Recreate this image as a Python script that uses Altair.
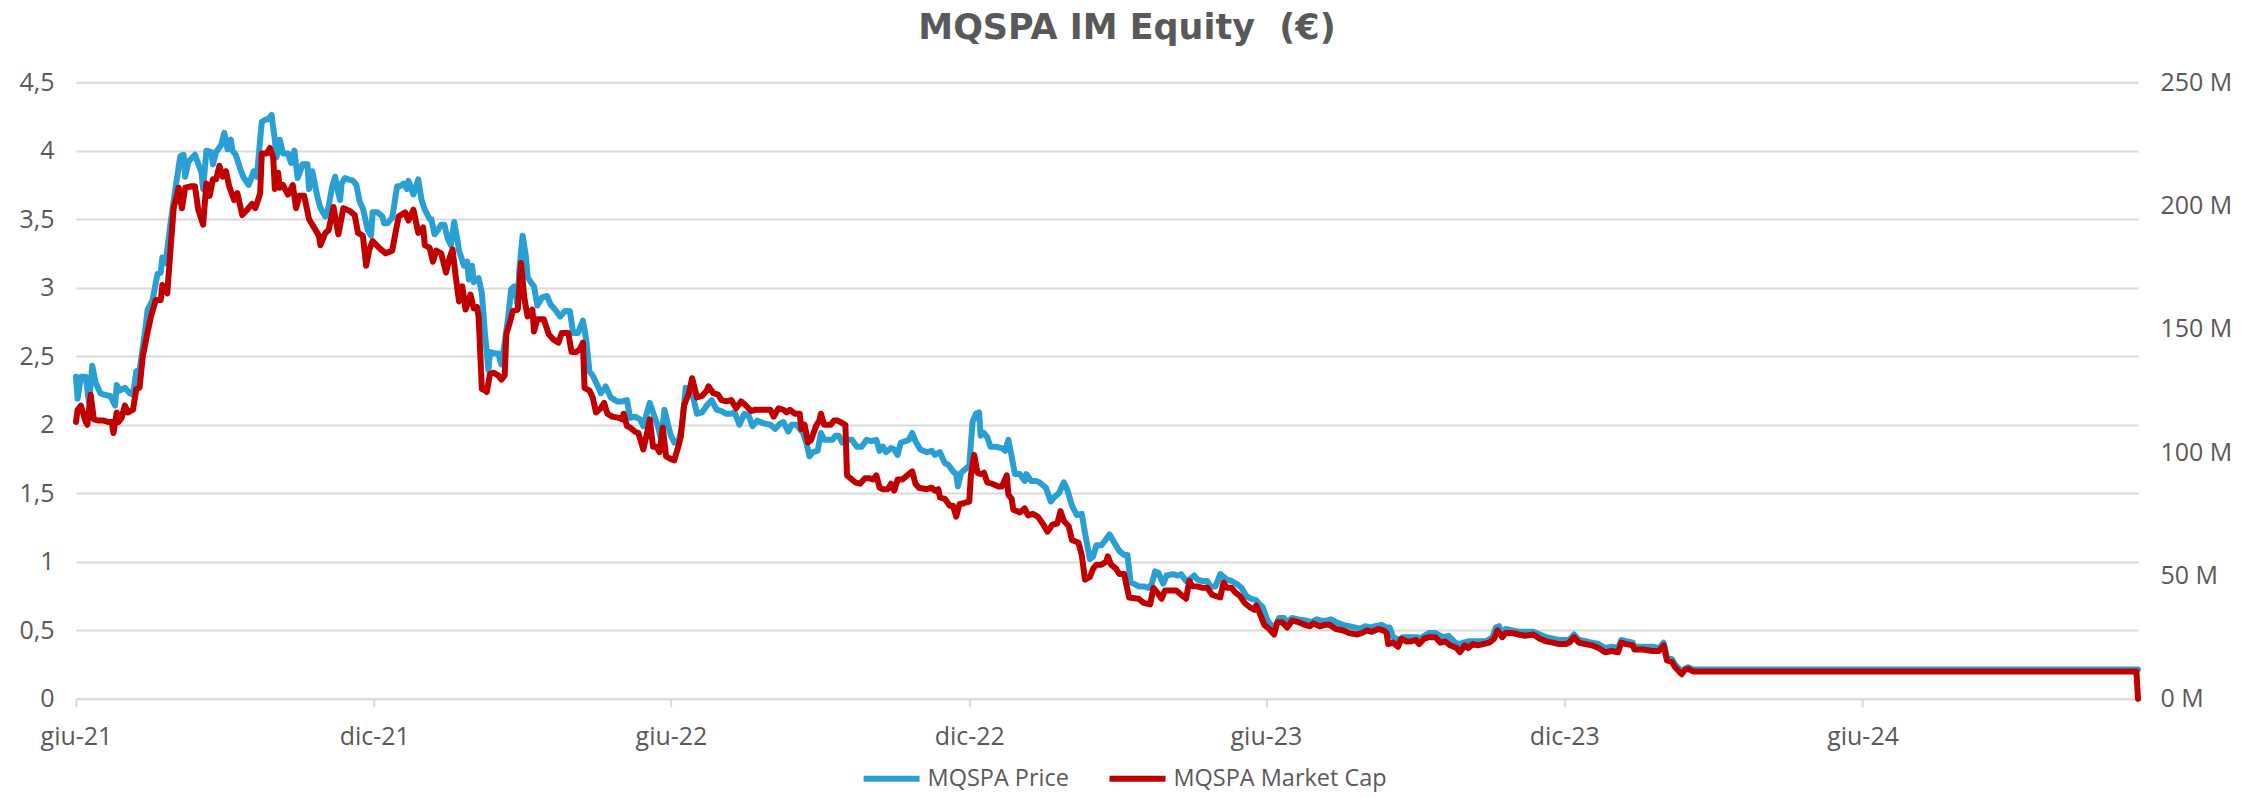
import altair as alt
import pandas as pd

START_DATE = "2021-06-01"
AXIS_END_DAY = 1265

SERIES_NAMES = ["MQSPA Price", "MQSPA Market Cap"]
SERIES_COLORS = ["#2A9FD4", "#C00000"]

# ---- MQSPA Price (EUR), days counted from 1 June 2021 ----
price_days = [
    0, 1, 3, 6, 8, 10, 12, 15, 17, 21, 24, 25, 27, 30, 33, 35, 37, 39, 42, 44,
    47, 50, 52, 53, 55, 58, 61, 64, 66, 67, 69, 73, 77, 78, 80, 83, 84, 86, 89, 91,
    93, 95, 96, 98, 101, 103, 106, 109, 111, 112, 114, 117, 118, 120, 122, 123, 125, 127, 130, 132,
    134, 136, 139, 142, 143, 145, 148, 150, 153, 155, 157, 159, 160, 162, 163, 165, 170, 172, 174, 176,
    179, 181, 182, 185, 188, 189, 191, 194, 197, 199, 201, 203, 204, 207, 210, 212, 214, 217,
    218, 220, 222, 224, 226, 228, 230, 232, 234, 235, 238, 240, 241, 243, 244, 246, 247, 249, 251, 253,
    254, 257, 259, 261, 263, 265, 267, 269, 271, 272, 274, 276, 277, 279, 281, 283, 286, 289, 291, 294,
    297, 300, 303, 305, 308, 311, 313, 315, 317, 319, 322, 325, 328, 332, 335, 338, 340, 343, 346, 348,
    352, 354, 357, 359, 361, 363, 365, 367, 370, 372, 374, 378, 381, 384, 387, 390, 393, 396, 399, 402,
    404, 407, 410, 413, 415, 418, 422, 426, 429, 432,
    434, 437, 439, 442, 444, 446, 448, 450, 452, 455, 457, 459, 462, 464, 466, 468, 470, 473, 476, 479,
    482, 485, 488, 491, 493, 495, 497, 500, 502, 504, 506, 509, 511, 513, 515, 518, 522, 525, 527, 530,
    533, 535, 538, 540, 541, 543, 546, 548, 550, 552, 554, 555, 557, 559, 561, 564, 568, 570, 572, 574,
    576, 579, 582, 583, 586, 589, 591, 595, 598, 600, 603, 606, 608, 611, 614, 617, 619, 622, 624, 626,
    629, 631, 634, 637, 640, 643, 645, 647, 649, 652,
    655, 658, 660, 662, 664, 667, 669, 673, 676, 678, 681, 683, 686, 688, 691, 694, 696, 699, 702, 706,
    709, 712, 715, 718, 721, 724, 726, 728, 731, 734, 736, 738, 741, 743, 746, 750, 755, 758, 761, 764,
    767, 770, 773, 777, 781, 785, 788, 791, 794, 797, 801, 804, 806, 808, 810, 812, 814, 817, 820, 823,
    825, 827, 830, 834, 837, 839, 842, 846, 849, 851, 854, 857, 861, 865, 869, 871, 873,
    875, 877, 881, 885, 889, 894, 898, 902, 906, 910, 914, 916, 919, 922, 926, 930, 934, 938, 942, 946,
    948, 951, 955, 956, 961, 967, 971, 974, 976, 979, 981, 985, 987, 989, 992, 1265,
]
price_values = [
    2.35, 2.19, 2.35, 2.35, 2.16, 2.43, 2.31, 2.23, 2.22, 2.21, 2.14, 2.29, 2.25, 2.27, 2.23, 2.22, 2.39, 2.40, 2.65, 2.84,
    2.91, 3.10, 3.11, 3.22, 3.18, 3.47, 3.72, 3.96, 3.97, 3.81, 3.92, 3.97, 3.84, 3.72, 4.00, 3.99, 3.90, 3.99, 4.04, 4.13,
    4.01, 4.08, 4.00, 3.97, 3.86, 3.80, 3.75, 3.85, 3.81, 3.95, 4.21, 4.23, 4.23, 4.26, 4.08, 3.95, 4.08, 3.98, 3.98, 3.91,
    4.00, 3.80, 3.90, 3.90, 3.72, 3.85, 3.67, 3.58, 3.52, 3.59, 3.73, 3.81, 3.74, 3.64, 3.76, 3.80, 3.78, 3.75, 3.63, 3.58,
    3.42, 3.38, 3.55, 3.55, 3.52, 3.47, 3.47, 3.51, 3.74, 3.74, 3.76, 3.72, 3.78, 3.68, 3.79, 3.64, 3.57, 3.50,
    3.50, 3.39, 3.42, 3.46, 3.46, 3.36, 3.31, 3.48, 3.35, 3.27, 3.16, 3.19, 3.06, 3.16, 3.04, 3.06, 3.07, 2.96, 2.65, 2.40,
    2.53, 2.52, 2.52, 2.44, 2.60, 2.77, 2.99, 3.01, 2.87, 3.13, 3.38, 3.23, 3.08, 3.04, 3.01, 2.87, 2.93, 2.94, 2.88, 2.84,
    2.79, 2.83, 2.83, 2.67, 2.67, 2.76, 2.62, 2.39, 2.36, 2.31, 2.23, 2.28, 2.20, 2.17, 2.17, 2.18, 2.05, 2.06, 2.04, 1.99,
    2.16, 2.09, 1.99, 1.89, 2.11, 2.01, 1.92, 1.87, 1.89, 2.01, 2.27, 2.23, 2.08, 2.09, 2.14, 2.18, 2.11, 2.10, 2.08, 2.08,
    2.09, 2.00, 2.08, 2.06, 1.99, 2.03, 2.01, 2.00, 1.97, 2.01,
    2.02, 1.95, 2.00, 2.00, 1.97, 1.94, 1.87, 1.77, 1.80, 1.81, 1.94, 1.89, 1.89, 1.89, 1.92, 1.92, 1.87, 1.89, 1.89, 1.84,
    1.84, 1.89, 1.88, 1.89, 1.81, 1.84, 1.80, 1.83, 1.82, 1.78, 1.87, 1.88, 1.89, 1.94, 1.88, 1.82, 1.80, 1.81, 1.78, 1.80,
    1.72, 1.71, 1.66, 1.64, 1.55, 1.65, 1.68, 1.70, 2.02, 2.08, 2.09, 1.92, 1.94, 1.91, 1.84, 1.84, 1.83, 1.81, 1.89, 1.77,
    1.64, 1.64, 1.59, 1.64, 1.59, 1.59, 1.58, 1.54, 1.44, 1.47, 1.50, 1.58, 1.53, 1.41, 1.34, 1.35, 1.21, 1.02, 1.04, 1.12,
    1.12, 1.15, 1.20, 1.14, 1.08, 1.05, 1.05, 0.85, 0.84, 0.82,
    0.82, 0.81, 0.84, 0.93, 0.92, 0.84, 0.90, 0.91, 0.90, 0.91, 0.86, 0.87, 0.90, 0.87, 0.86, 0.86, 0.82, 0.82, 0.91, 0.87,
    0.86, 0.84, 0.81, 0.75, 0.73, 0.72, 0.69, 0.67, 0.57, 0.53, 0.53, 0.59, 0.59, 0.56, 0.59, 0.58, 0.57, 0.56, 0.58, 0.57,
    0.57, 0.58, 0.56, 0.54, 0.53, 0.52, 0.51, 0.53, 0.52, 0.53, 0.54, 0.52, 0.52, 0.45, 0.44, 0.41, 0.45, 0.45, 0.45, 0.45,
    0.44, 0.46, 0.48, 0.48, 0.46, 0.45, 0.46, 0.41, 0.40, 0.41, 0.42, 0.42, 0.42, 0.42, 0.45, 0.52, 0.53,
    0.47, 0.51, 0.50, 0.49, 0.49, 0.49, 0.47, 0.45, 0.44, 0.43, 0.43, 0.43, 0.47, 0.43, 0.42, 0.41, 0.40, 0.37, 0.38, 0.37,
    0.43, 0.42, 0.41, 0.38, 0.38, 0.38, 0.37, 0.41, 0.30, 0.29, 0.25, 0.20, 0.22, 0.23, 0.215, 0.215,
]

# ---- MQSPA Market Cap (EUR millions), days counted from 1 June 2021 ----
cap_days = [
    0, 1, 3, 6, 7, 9, 11, 14, 17, 20, 22, 23, 25, 26, 28, 30, 32, 35, 37, 39,
    41, 44, 46, 49, 52, 53, 56, 58, 60, 61, 63, 65, 67, 71, 73, 75, 78, 80, 82, 84,
    86, 88, 90, 92, 94, 97, 99, 102, 105, 108, 110, 112, 113, 114, 117, 119, 121, 122, 124, 125,
    127, 130, 133, 135, 137, 140, 143, 147, 149, 150, 153, 155, 158, 160, 161, 164, 168, 171, 173, 176,
    178, 180, 182, 186, 190, 194, 196, 198, 202, 204, 207, 210, 213, 214, 217,
    219, 221, 224, 227, 229, 231, 233, 235, 237, 239, 242, 244, 246, 247, 249, 251, 252, 254, 256, 259,
    261, 263, 264, 266, 268, 271, 273, 275, 277, 280, 281, 283, 287, 290, 293, 296, 298, 302, 304, 307,
    309, 311, 312, 315, 317, 319, 322, 324, 326, 329, 333, 335, 336, 338, 340, 343, 345, 348, 350, 352,
    354, 356, 358, 360, 362, 365, 367, 369, 371, 373, 376, 378, 381, 384, 387, 388, 391, 394, 396, 399,
    402, 405, 408, 411, 414, 417, 421, 426, 428, 431,
    434, 436, 438, 441, 444, 445, 447, 449, 451, 454, 456, 457, 459, 461, 463, 465, 467, 469, 472, 473,
    476, 478, 481, 484, 487, 489, 491, 493, 495, 498, 500, 502, 504, 507, 510, 513, 515, 517, 522, 525,
    527, 529, 530, 533, 536, 538, 540, 542, 545, 548, 549, 551, 553, 555, 557, 559, 562, 566, 568, 571,
    572, 574, 575, 579, 582, 584, 587, 590, 593, 596, 599, 602, 604, 606, 609, 611, 615, 617, 619, 622,
    624, 626, 629, 632, 633, 635, 638, 640, 643, 645, 646, 652,
    655, 659, 661, 663, 666, 668, 671, 675, 678, 681, 683, 685, 688, 691, 694, 697, 699, 702, 704, 706,
    709, 711, 714, 717, 720, 723, 724, 726, 729, 732, 735, 737, 740, 743, 746, 750, 754, 757, 759, 763,
    766, 769, 773, 777, 781, 786, 789, 792, 795, 799, 802, 804, 805, 808, 811, 813, 816, 819, 822, 824,
    827, 830, 834, 837, 840, 843, 847, 849, 852, 854, 857, 860, 863, 867, 870, 872,
    875, 877, 881, 885, 889, 894, 898, 902, 906, 910, 914, 916, 919, 922, 926, 930, 934, 938, 942, 946,
    948, 951, 955, 956, 961, 967, 971, 974, 976, 979, 981, 985, 987, 989, 992, 1264, 1265,
]
cap_values_m = [
    112.2, 117.2, 118.9, 112.2, 111.1, 123.3, 113.3, 112.8, 112.8, 112.2, 112.2, 107.8, 116.1, 112.2, 113.9, 118.9, 116.1, 117.2, 125.6, 126.1,
    138.9, 148.9, 155.0, 161.7, 161.7, 167.8, 164.4, 182.2, 199.4, 201.7, 207.2, 198.9, 207.2, 207.8, 207.8, 198.3, 192.2, 208.9, 203.9, 210.6,
    210.6, 216.1, 211.7, 213.9, 207.8, 202.2, 205.0, 196.1, 198.3, 200.6, 198.9, 202.8, 205.0, 221.1, 221.1, 223.3, 219.4, 206.7, 213.3, 207.2,
    208.3, 204.4, 208.3, 198.9, 203.9, 203.9, 194.4, 190.0, 187.8, 183.9, 188.9, 190.0, 199.4, 191.7, 188.3, 198.9, 197.8, 196.1, 188.9, 187.8,
    175.6, 182.2, 185.6, 182.8, 180.6, 181.7, 188.9, 195.6, 197.2, 193.9, 198.3, 188.9, 191.1, 183.9, 182.8,
    177.2, 181.7, 180.6, 172.8, 178.3, 182.2, 171.1, 161.1, 167.2, 157.8, 163.9, 158.3, 158.9, 155.0, 125.6, 125.0, 124.4, 131.7, 132.2, 131.1,
    129.4, 131.1, 147.8, 152.2, 157.2, 157.8, 176.7, 162.8, 155.0, 157.8, 148.9, 153.9, 153.9, 147.8, 145.6, 144.4, 148.3, 148.3, 140.6, 140.6,
    141.7, 144.4, 126.1, 125.0, 122.2, 116.1, 117.8, 120.0, 115.6, 114.4, 113.9, 113.3, 115.6, 110.6, 110.0, 108.3, 107.8, 101.1, 106.7, 113.3,
    102.2, 102.2, 100.0, 110.0, 98.3, 97.2, 96.7, 101.1, 106.1, 118.9, 123.9, 130.0, 122.2, 122.8, 125.0, 126.7, 123.9, 123.3, 121.1, 120.6,
    121.1, 117.8, 120.6, 118.9, 116.7, 117.2, 117.2, 117.2, 114.4, 117.8,
    117.2, 116.1, 117.2, 115.6, 115.6, 109.4, 111.1, 103.9, 105.0, 110.6, 112.8, 115.6, 111.1, 111.1, 111.1, 112.8, 112.8, 112.2, 111.1, 90.6,
    88.9, 87.8, 87.2, 89.4, 89.4, 88.9, 90.6, 85.6, 85.0, 85.0, 87.2, 84.4, 88.9, 88.9, 90.6, 92.2, 87.2, 85.6, 85.0, 85.6,
    84.4, 85.0, 81.7, 81.1, 78.3, 78.3, 73.9, 78.9, 79.4, 80.0, 90.6, 98.9, 91.7, 91.1, 91.7, 87.8, 87.2, 86.1, 86.1, 90.6,
    82.8, 81.1, 76.7, 75.6, 77.2, 74.4, 75.0, 73.9, 71.1, 67.8, 70.6, 71.1, 76.1, 72.2, 70.0, 64.4, 63.3, 58.3, 48.3, 49.4,
    52.8, 54.4, 54.4, 55.6, 57.8, 54.4, 52.8, 50.6, 50.6, 44.4, 41.1, 40.6,
    38.9, 38.3, 45.0, 43.3, 40.6, 43.9, 43.9, 43.9, 42.2, 40.6, 47.8, 45.6, 45.6, 45.0, 45.0, 42.2, 41.7, 41.1, 47.2, 45.0,
    45.0, 43.3, 41.7, 38.9, 37.2, 36.1, 37.8, 35.0, 30.0, 28.3, 26.1, 31.1, 31.1, 28.9, 31.7, 31.1, 30.0, 29.4, 30.6, 29.4,
    30.0, 30.0, 28.3, 27.8, 26.7, 26.1, 26.7, 27.8, 27.2, 28.3, 27.8, 26.7, 22.2, 22.8, 21.1, 24.4, 23.3, 23.3, 23.9, 22.2,
    24.4, 25.0, 25.0, 22.8, 23.3, 21.7, 20.6, 18.9, 21.7, 20.6, 22.2, 21.7, 22.2, 22.8, 24.4, 27.8,
    25.0, 26.7, 26.7, 26.1, 25.6, 26.1, 24.4, 23.3, 22.8, 22.2, 22.2, 22.8, 25.0, 22.8, 22.2, 21.7, 20.6, 18.9, 19.4, 18.9,
    22.8, 22.2, 21.7, 20.0, 20.0, 19.4, 19.4, 21.7, 15.6, 15.0, 12.8, 10.0, 11.7, 12.2, 11.1, 11.1, 0.0,
]

# ---- axis ticks ----
x_tick_dates = ["2021-06-01", "2021-12-01", "2022-06-01", "2022-12-01",
                "2023-06-01", "2023-12-01", "2024-06-01"]
x_tick_labels = ["giu-21", "dic-21", "giu-22", "dic-22", "giu-23", "dic-23", "giu-24"]
price_ticks = [0, 0.5, 1, 1.5, 2, 2.5, 3, 3.5, 4, 4.5]
cap_ticks = [0, 50, 100, 150, 200, 250]

assert len(price_days) == len(price_values), (len(price_days), len(price_values))
assert len(cap_days) == len(cap_values_m), (len(cap_days), len(cap_values_m))

start = pd.Timestamp(START_DATE)


def to_dates(days):
    return [(start + pd.Timedelta(days=d)).strftime("%Y-%m-%dT00:00:00") for d in days]


price_df = pd.DataFrame({"date": to_dates(price_days), "price": price_values,
                         "series": SERIES_NAMES[0]})
cap_df = pd.DataFrame({"date": to_dates(cap_days), "cap_m": cap_values_m,
                       "series": SERIES_NAMES[1]})


def dt(s):
    t = pd.Timestamp(s)
    return alt.DateTime(year=t.year, month=t.month, date=t.day)


end = start + pd.Timedelta(days=AXIS_END_DAY)
x_domain = [dt(START_DATE), dt(end.strftime("%Y-%m-%d"))]

label_expr = "''"
for d, lab in reversed(list(zip(x_tick_dates, x_tick_labels))):
    t = pd.Timestamp(d)
    label_expr = (f"(year(datum.value) == {t.year} && month(datum.value) == {t.month - 1})"
                  f" ? '{lab}' : " + label_expr)

FONT = "Open Sans"
TITLE_FONT = "DejaVu Sans"
TEXT = "#595959"
GRID = "#D9D9D9"
AXIS_FS = 25
LEGEND_FS = 23.5

x_enc = alt.X(
    "date:T",
    scale=alt.Scale(domain=x_domain),
    axis=alt.Axis(
        values=[dt(d) for d in x_tick_dates], labelExpr=label_expr, title=None,
        grid=False, domain=True, domainColor=GRID, domainWidth=2,
        ticks=True, tickColor=GRID, tickWidth=2, tickSize=8,
        labelFlush=False, labelPadding=18, labelFontSize=AXIS_FS,
        labelColor=TEXT, labelFont=FONT,
    ),
)

color_enc = alt.Color(
    "series:N",
    scale=alt.Scale(domain=SERIES_NAMES, range=SERIES_COLORS),
    legend=alt.Legend(
        title=None, orient="none", direction="horizontal",
        legendX=785, legendY=666, padding=0,
        symbolType="stroke", symbolSize=3136, symbolStrokeWidth=6,
        labelFontSize=LEGEND_FS, labelColor=TEXT, labelFont=FONT, labelOffset=5,
        labelLimit=500, columnPadding=28,
    ),
)

price_line = alt.Chart(price_df).mark_line(
    strokeWidth=6, strokeCap="round", strokeJoin="round"
).encode(
    x=x_enc,
    y=alt.Y("price:Q", scale=alt.Scale(domain=[0, 4.5], nice=False),
            axis=alt.Axis(orient="left", values=price_ticks, title=None,
                          labelExpr="replace(toString(datum.value), '.', ',')",
                          grid=True, gridColor=GRID, gridWidth=2,
                          domain=False, ticks=False, labelPadding=22,
                          labelFontSize=AXIS_FS, labelColor=TEXT, labelFont=FONT)),
    color=color_enc,
)

cap_line = alt.Chart(cap_df).mark_line(
    strokeWidth=6, strokeCap="round", strokeJoin="round"
).encode(
    x=x_enc,
    y=alt.Y("cap_m:Q", scale=alt.Scale(domain=[0, 250], nice=False),
            axis=alt.Axis(orient="right", values=cap_ticks, title=None,
                          labelExpr="datum.value + ' M'",
                          grid=False, domain=False, ticks=False, labelPadding=22,
                          labelFontSize=AXIS_FS, labelColor=TEXT, labelFont=FONT)),
    color=color_enc,
)

chart = alt.layer(price_line, cap_line).resolve_scale(y="independent").properties(
    width=2063,
    height=617,
    padding={"left": 68, "top": 74, "right": 100, "bottom": 94},
    autosize=alt.AutoSizeParams(type="none"),
    title=alt.TitleParams(
        "MQSPA IM Equity \u00a0(€)", fontSize=35, fontWeight="bold", color=TEXT,
        font=TITLE_FONT, anchor="middle", offset=24, dx=20,
    ),
).configure_view(stroke=None)

chart.save("out.html", embed_options={"renderer": "svg", "actions": False})
